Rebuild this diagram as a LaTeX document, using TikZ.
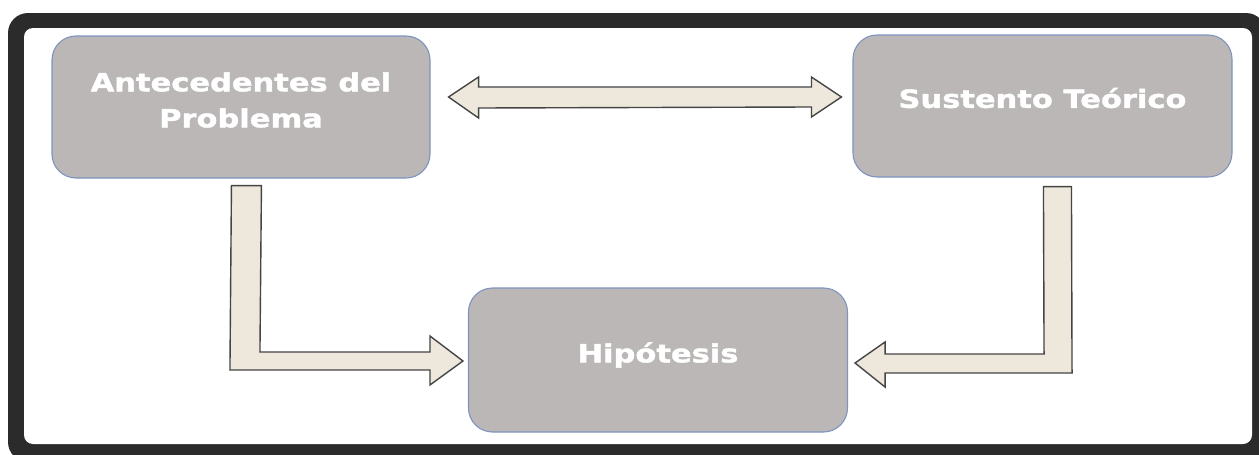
\documentclass[tikz,border=0pt]{standalone}
\usepackage{fontspec}
\setmainfont{DejaVu Sans}
\newfontfamily\lblfont{DejaVu Sans}[FakeStretch=1.22,FakeBold=1.6]
\usetikzlibrary{calc}
\definecolor{frame}{HTML}{2B2B2B}
\definecolor{boxfill}{HTML}{BAB7B6}
\definecolor{boxline}{HTML}{7E94BE}
\definecolor{arrfill}{HTML}{EEE8DC}
\definecolor{arrline}{HTML}{454545}
\tikzset{
  box/.style={draw=boxline, line width=1.1pt, fill=boxfill, rounded corners=24pt},
  lbl/.style={text=white, font=\lblfont\bfseries\fontsize{25}{36}\selectfont, align=center},
  blockarrow/.style={draw=arrline, line width=1.4pt, fill=arrfill, line join=miter}
}
\begin{document}
\begin{tikzpicture}[x=1pt,y=-1pt]
\useasboundingbox (0,0) rectangle (1259,455);
% frame
\fill[frame, rounded corners=20pt] (8,13) rectangle (1266,462);
\fill[white, rounded corners=9pt] (24,28) rectangle (1252,444);
% boxes
\node[box, minimum width=378pt, minimum height=142pt] (a) at (241,107) {};
\node[box, minimum width=379pt, minimum height=142pt] (b) at (1042.5,106) {};
\node[box, minimum width=379pt, minimum height=144pt] (c) at (658,360) {};
\node[lbl] (at) at ($(a.center)+(0,-7)$) {Antecedentes del\\Problema};
\node[lbl] (bt) at ($(b.center)+(0,-8)$) {Sustento Teórico};
\node[lbl] (ct) at ($(c.center)+(0,-5)$) {Hipótesis};
% double arrow between a and b
\draw[blockarrow]
  ($(a.east)+(18,-10)$) coordinate (d1)
  -- ++(30,-20) -- ++(0,10) -- ($(b.west)+(-41,-19)$) -- ++(0,-10)
  -- ($(b.west)+(-11,-9)$) -- ($(b.west)+(-41,11)$) -- ++(0,-10)
  -- ($(a.east)+(48,1)$) -- ++(0,10) -- cycle;
% left L arrow a -> c
\draw[blockarrow]
  ($(a.south west)+(180,7)$) -- ++(30,0) -- ($(c.west)+(-208,-8)$)
  -- ($(c.west)+(-38,-8)$) -- ++(0,-16) -- ($(c.west)+(-5,1)$)
  -- ($(c.west)+(-38,25)$) -- ++(0,-15) -- ($(c.west)+(-238,10)$) -- cycle;
% right L arrow b -> c
\draw[blockarrow]
  ($(b.south west)+(191,9)$) -- ++(28,0) -- ($(c.east)+(224,13)$)
  -- ($(c.east)+(37,13)$) -- ++(0,14) -- ($(c.east)+(7,3)$)
  -- ($(c.east)+(37,-18)$) -- ++(0,12) -- ($(c.east)+(196,-6)$) -- cycle;
\end{tikzpicture}
\end{document}
